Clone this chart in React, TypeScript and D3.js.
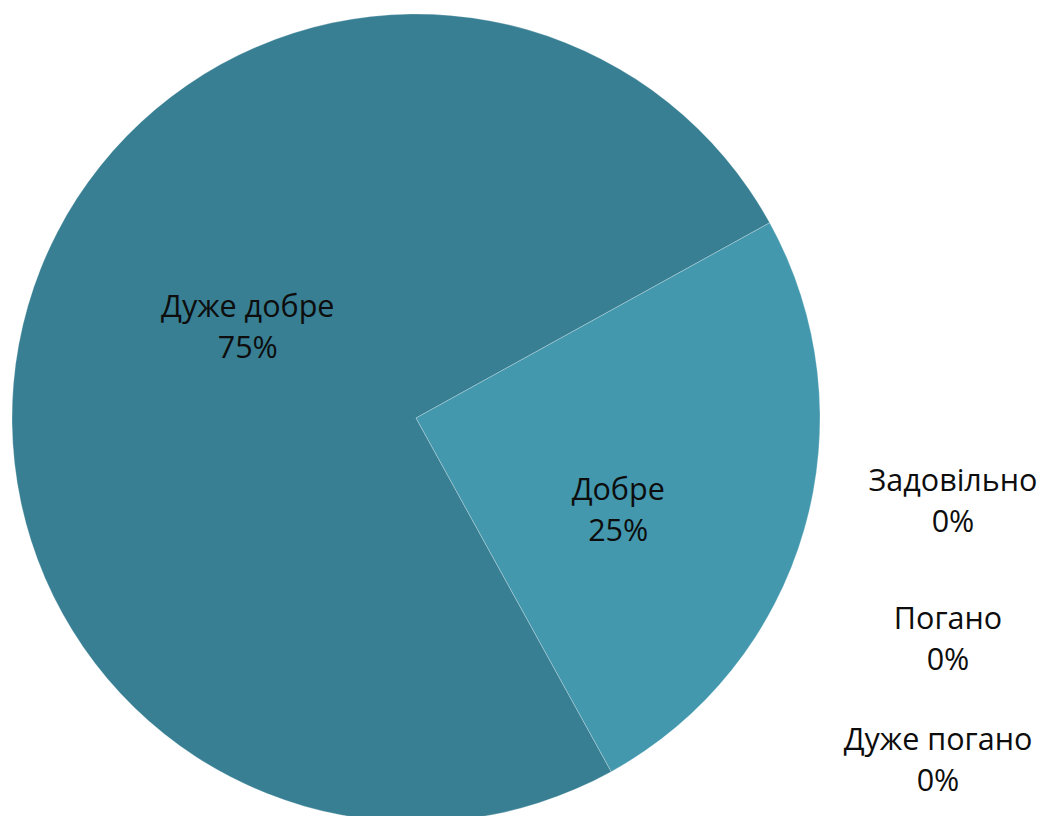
import React from "react";
import * as d3 from "d3";

const categories = ["Дуже добре", "Добре", "Задовільно", "Погано", "Дуже погано"];
const values = [75, 25, 0, 0, 0];
const percentLabels = ["75%", "25%", "0%", "0%", "0%"];
const colors = ["#387F93", "#4398AE", "#A5A5A5", "#FFC000", "#5B9BD5"];
// label placement: polar (angle in degrees, radius fraction) for non-zero slices
const labelPolar: [number, number][] = [
  [299.8, 0.48],
  [113.3, 0.545],
];
// zero-value labels placed in a column at the right
const sideLabelX = [953, 948, 938];
const sideLabelY = [491, 629, 750];

const W = 1039;
const H = 816;
const cx = 416;
const cy = 418;
const R = 404;
const startDeg = 151.1;
const fontFamily = "'Open Sans', 'Noto Sans', sans-serif";
const fontSize = 30.5;
const lineGap = 41;

export default function App() {
  const start = (startDeg * Math.PI) / 180;
  const pie = d3
    .pie<number>()
    .sort(null)
    .value((d) => d)
    .startAngle(start)
    .endAngle(start + 2 * Math.PI);
  const arcs = pie(values);
  const arc = d3.arc<d3.PieArcDatum<number>>().innerRadius(0).outerRadius(R);

  return (
    <svg
      width={W}
      height={H}
      style={{ position: "absolute", left: 0, top: 0, background: "#fff" }}
    >
      <g transform={`translate(${cx},${cy})`}>
        {arcs.map((a, i) =>
          a.value > 0 ? (
            <path key={i} d={arc(a) || ""} fill={colors[i]} stroke="#ffffff" strokeOpacity={0.5} strokeWidth={0.5} />
          ) : null
        )}
        {arcs.map((a, i) => {
          if (a.value <= 0) return null;
          const [deg, frac] = labelPolar[i];
          const ang = (deg * Math.PI) / 180;
          const x = Math.sin(ang) * R * frac;
          const y = -Math.cos(ang) * R * frac;
          return (
            <text
              key={"l" + i}
              textAnchor="middle"
              fontFamily={fontFamily}
              fontSize={fontSize}
              fill="#0d0d0d"
            >
              <tspan x={x} y={y - 5}>{categories[i]}</tspan>
              <tspan x={x} y={y - 5 + lineGap}>{percentLabels[i]}</tspan>
            </text>
          );
        })}
      </g>
      {categories.slice(2).map((c, j) => (
        <text
          key={"s" + j}
          textAnchor="middle"
          fontFamily={fontFamily}
          fontSize={fontSize}
          fill="#0d0d0d"
        >
          <tspan x={sideLabelX[j]} y={sideLabelY[j]}>{c}</tspan>
          <tspan x={sideLabelX[j]} y={sideLabelY[j] + lineGap}>{percentLabels[j + 2]}</tspan>
        </text>
      ))}
    </svg>
  );
}
